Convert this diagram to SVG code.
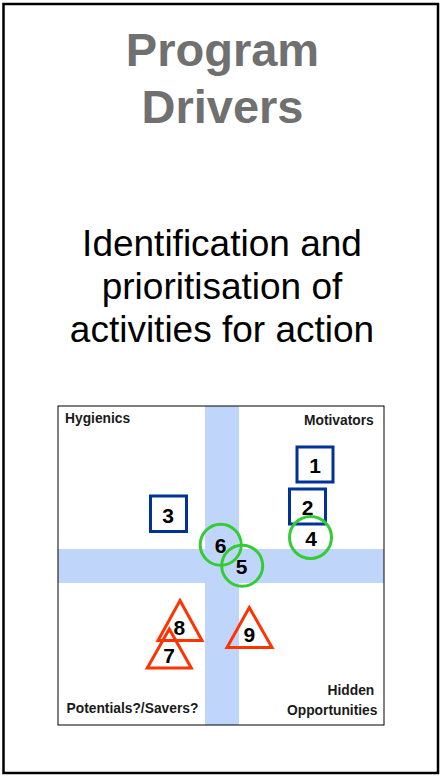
<svg xmlns="http://www.w3.org/2000/svg" width="441" height="776" viewBox="0 0 441 776">
<style>
.title{font-family:"Liberation Sans",Arial,sans-serif;font-weight:bold;font-size:47px;fill:#707070;text-anchor:middle}
.sub{font-family:"Liberation Sans",Arial,sans-serif;font-size:37px;fill:#000;text-anchor:middle}
.lbl{font-family:"Liberation Sans",Arial,sans-serif;font-weight:bold;font-size:13.8px;fill:#1a1a1a}
.num{font-family:"Liberation Sans",Arial,sans-serif;font-weight:bold;font-size:21px;fill:#000;text-anchor:middle;dominant-baseline:central}
.sq{fill:none;stroke:#003399;stroke-width:3}
.ci{fill:none;stroke:#33CC33;stroke-width:3}
.tr{fill:none;stroke:#FF3300;stroke-width:3;stroke-linejoin:miter}
.band{fill:#BFD6FA}
</style>
<rect x="0" y="0" width="441" height="776" fill="#fff"/>
<rect x="3.5" y="4" width="434.5" height="769" fill="none" stroke="#000" stroke-width="2.5"/>
<g id="title">
<text class="title" x="222.5" y="66">Program</text>
<text class="title" x="222.5" y="122.7">Drivers</text>
</g>
<g id="subtitle">
<text class="sub" x="222" y="256">Identification and</text>
<text class="sub" x="222" y="299">prioritisation of</text>
<text class="sub" x="222" y="342">activities for action</text>
</g>
<g id="chart">
<rect x="58" y="406" width="326" height="319" fill="#fff"/>
<rect class="band" x="205" y="406" width="34" height="319"/>
<rect class="band" x="58" y="549" width="326" height="34"/>
<rect x="58" y="406" width="326" height="319" fill="none" stroke="#000" stroke-width="1"/>
<text class="lbl" x="65" y="423">Hygienics</text>
<text class="lbl" x="304" y="425">Motivators</text>
<text class="lbl" x="66.5" y="713">Potentials?/Savers?</text>
<text class="lbl" x="327.5" y="695">Hidden</text>
<text class="lbl" x="287" y="715">Opportunities</text>
</g>
<g id="node1"><rect class="sq" x="297" y="447" width="36" height="35"/><text class="num" x="315" y="465">1</text></g>
<g id="node2"><rect class="sq" x="289.5" y="489" width="36" height="35"/><text class="num" x="307.5" y="507">2</text></g>
<g id="node3"><rect class="sq" x="150.5" y="496" width="36" height="35.5"/><text class="num" x="168" y="515">3</text></g>
<g id="node4"><circle class="ci" cx="310.5" cy="537.5" r="21"/><text class="num" x="311" y="538.5">4</text></g>
<g id="node6"><circle class="ci" cx="220.7" cy="544.7" r="20.5"/><text class="num" x="220.7" y="545.5">6</text></g>
<g id="node5"><circle class="ci" cx="242.2" cy="565.7" r="20.5"/><text class="num" x="241.7" y="566.7">5</text></g>
<g id="node8"><polygon class="tr" points="180,600.5 202,640.5 158,640.5"/><text class="num" x="179.3" y="627.7">8</text></g>
<g id="node7"><polygon class="tr" points="169.3,629 191.3,668 147.3,668"/><text class="num" x="169" y="655.5">7</text></g>
<g id="node9"><polygon class="tr" points="249.3,607.5 272,647.5 227,647.5"/><text class="num" x="249.3" y="634.5">9</text></g>
<g id="connectors"></g>
</svg>
